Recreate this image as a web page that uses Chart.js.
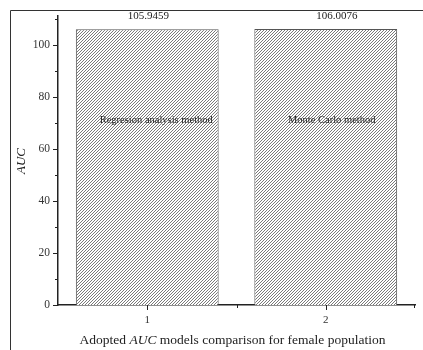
<!DOCTYPE html>
<html>
<head>
<meta charset="utf-8">
<script src="https://cdn.jsdelivr.net/npm/chart.js@4"></script>
<style>
  html, body { margin: 0; padding: 0; background: #fff; }
</style>
</head>
<body>
<canvas id="chart" width="423" height="350"></canvas>
<script>
const categories = ['1', '2'];
const aucValues = [105.9459, 106.0076];
const methodNames = ['Regresion analysis method', 'Monte Carlo method'];
const yTicks = [0, 20, 40, 60, 80, 100];
const yMinorTicks = [10, 30, 50, 70, 90, 110];

const SERIF = '"Liberation Serif", "Times New Roman", serif';
// label nudges, as placed in the original figure
const valueShift = [1, 11];
const nameShift = [9, 6];

// fine diagonal hatch, one pixel line every 3 px
function hatch() {
    const c = document.createElement('canvas');
    c.width = 3; c.height = 3;
    const g = c.getContext('2d');
    g.fillStyle = '#fff';
    g.fillRect(0, 0, 3, 3);
    g.fillStyle = '#7a7a7a';
    for (let i = 0; i < 3; i++) g.fillRect(2 - i, i, 1, 1);
    return g.createPattern(c, 'repeat');
}

const decor = {
    id: 'decor',
    beforeDraw(chart) {
        const ctx = chart.ctx;
        ctx.save();
        ctx.strokeStyle = '#333';
        ctx.lineWidth = 1;
        ctx.beginPath();
        ctx.moveTo(10.5, 350);
        ctx.lineTo(10.5, 10.5);
        ctx.lineTo(423, 10.5);
        ctx.stroke();
        ctx.restore();
    },
    afterDraw(chart) {
        const ctx = chart.ctx;
        const x = chart.scales.x, y = chart.scales.y;
        const area = chart.chartArea;
        ctx.save();
        ctx.strokeStyle = '#222';
        ctx.lineWidth = 1;
        ctx.beginPath();
        yTicks.forEach(v => {
            const p = Math.round(y.getPixelForValue(v)) + 0.5;
            ctx.moveTo(area.left - 5, p); ctx.lineTo(area.left, p);
        });
        yMinorTicks.forEach(v => {
            const p = Math.round(y.getPixelForValue(v)) + 0.5;
            ctx.moveTo(area.left - 3, p); ctx.lineTo(area.left, p);
        });
        categories.forEach((c, i) => {
            const p = Math.round(x.getPixelForValue(i)) + 0.5;
            ctx.moveTo(p, area.bottom); ctx.lineTo(p, area.bottom + 5);
        });
        const mid = Math.round((x.getPixelForValue(0) + x.getPixelForValue(1)) / 2) + 0.5;
        ctx.moveTo(mid, area.bottom); ctx.lineTo(mid, area.bottom + 3);
        ctx.moveTo(area.right - 0.5, area.bottom); ctx.lineTo(area.right - 0.5, area.bottom + 3);
        ctx.stroke();

        // value labels and method names
        const bars = chart.getDatasetMeta(0).data;
        ctx.fillStyle = '#222';
        ctx.textAlign = 'center';
        ctx.textBaseline = 'middle';
        bars.forEach((bar, i) => {
            ctx.font = '11px ' + SERIF;
            ctx.fillText(aucValues[i].toFixed(4), bar.x + valueShift[i], bar.y - 13);
            ctx.font = '10.5px ' + SERIF;
            ctx.fillText(methodNames[i], bar.x + nameShift[i], y.getPixelForValue(71));
        });

        // y title
        ctx.font = 'italic 13px ' + SERIF;
        ctx.save();
        ctx.translate(22, 161);
        ctx.rotate(-Math.PI / 2);
        ctx.fillText('AUC', 0, 0);
        ctx.restore();

        // x title with italic AUC
        const parts = [['Adopted ', ''], ['AUC', 'italic '], [' models comparison for female population', '']];
        let total = 0;
        parts.forEach(p => { ctx.font = p[1] + '13.5px ' + SERIF; total += ctx.measureText(p[0]).width; });
        let cx = (area.left + area.right) / 2 - 4 - total / 2;
        ctx.textAlign = 'left';
        parts.forEach(p => {
            ctx.font = p[1] + '13.5px ' + SERIF;
            ctx.fillText(p[0], cx, 340);
            cx += ctx.measureText(p[0]).width;
        });
        ctx.restore();
    }
};

new Chart(document.getElementById('chart'), {
    type: 'bar',
    data: {
        labels: categories,
        datasets: [{
            data: aucValues,
            backgroundColor: hatch(),
            borderColor: '#555',
            borderWidth: 1,
            barPercentage: 0.8,
            categoryPercentage: 1.0
        }]
    },
    options: {
        responsive: false,
        animation: false,
        layout: { padding: { top: 16, right: 8, left: 0, bottom: 0 } },
        plugins: { legend: { display: false }, tooltip: { enabled: false } },
        scales: {
            x: {
                grid: { display: false },
                border: { color: '#222', width: 1.5 },
                ticks: { color: '#333', font: { family: SERIF, size: 11 }, padding: 1 },
                afterFit(s) { s.height = 45; }
            },
            y: {
                min: 0,
                max: 111,
                grid: { display: false },
                border: { color: '#222', width: 1.5 },
                ticks: { color: '#333', font: { family: SERIF, size: 11.5 }, padding: 0 },
                afterBuildTicks(s) { s.ticks = yTicks.map(v => ({ value: v })); },
                afterFit(s) { s.width = 58; }
            }
        }
    },
    plugins: [decor]
});
</script>
</body>
</html>
